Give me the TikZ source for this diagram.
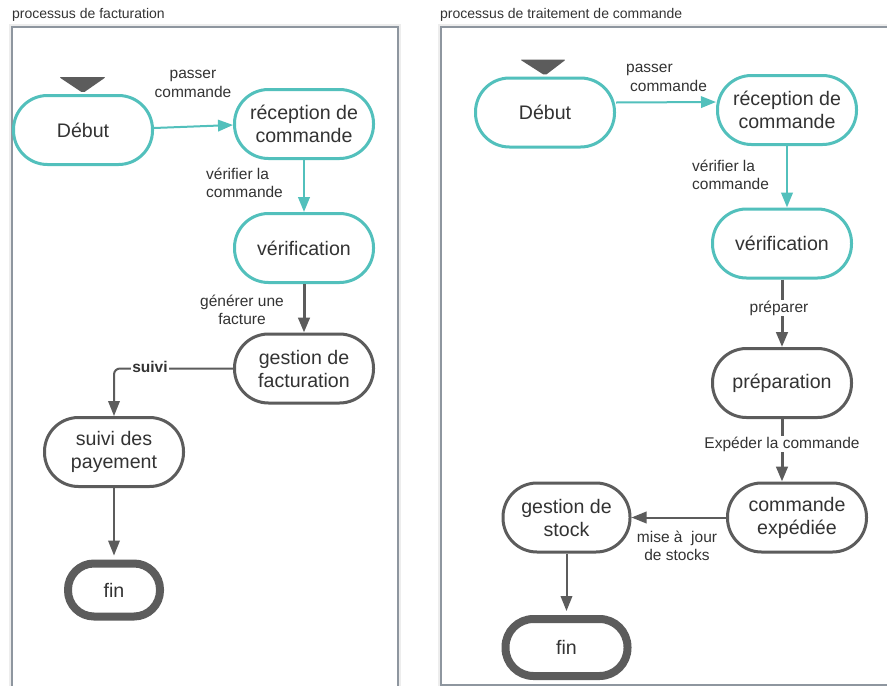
\documentclass[tikz,border=0pt]{standalone}
\usepackage{fontspec}
\setmainfont{Liberation Sans}
\usetikzlibrary{arrows.meta,calc}

\definecolor{teal1}{HTML}{52C0BC}
\definecolor{ink}{HTML}{333333}
\definecolor{edgegray}{HTML}{5C5C5C}
\definecolor{frame}{HTML}{8E969F}

\tikzset{
  state/.style={rectangle, rounded corners=34pt, minimum width=139pt,
    minimum height=69pt, line width=3pt, align=center, inner sep=0pt,
    font=\fontsize{19.6}{23}\selectfont, text=ink, fill=white},
  startstate/.style={state, draw=teal1},
  graystate/.style={state, draw=edgegray},
  endstate/.style={state, draw=edgegray, line width=8pt},
  lbl/.style={font=\fontsize{15.5}{18.7}\selectfont, text=ink, inner sep=1pt},
  title/.style={anchor=west, inner sep=0pt, font=\fontsize{14}{16}\selectfont, text=ink},
  flow/.style={-{Triangle[length=15pt,width=11.5pt]}, line width=2pt, edgegray},
  tealflow/.style={flow, teal1},
  startmark/.style={fill=edgegray, rounded corners=2pt},
  panelshadow/.style={draw=black!7, line width=6pt},
  panel/.style={draw=frame, fill=white, line width=1.4pt},
}

\begin{document}
\begin{tikzpicture}[x=1pt,y=-1pt]
\useasboundingbox (0,0) rectangle (887,686);

% panels
\begin{scope}
  \clip (0,0) rectangle (887,686);
  \draw[panelshadow] (12,27) rectangle (398,700);
  \draw[panelshadow] (441,27) rectangle (900,685);
  \draw[panel] (12,27) rectangle (398,700);
  \draw[panel] (441,27) rectangle (900,685);
\end{scope}
\node[title] (t1) at (12,15) {processus de facturation};
\node[title] (t2) at (440,15) {processus de traitement de commande};

% ---------- billing process ----------
\node[startstate] (L-debut) at (83,130) {Début};
\node[startstate] (L-rec) at (304,124) {réception de\\commande};
\node[startstate] (L-ver) at (304,248) {vérification};
\node[graystate] (L-gest) at (304,368.5) {gestion de\\facturation};
\node[graystate] (L-suivi) at (114,452) {suivi des\\payement};
\node[endstate, minimum width=92pt, minimum height=53pt, rounded corners=26pt] (L-fin) at (114,590) {fin};

\fill[startmark] ([xshift=-24pt,yshift=17pt]L-debut.north) -- ([xshift=23pt,yshift=17pt]L-debut.north) -- ([yshift=1pt]L-debut.north) -- cycle;

\draw[tealflow] ([yshift=2pt]L-debut.east) -- ([yshift=-1pt]L-rec.west);
\draw[tealflow, line width=2.5pt] (L-rec) -- (L-ver);
\draw[flow, line width=3pt] (L-ver) -- (L-gest);
\draw[flow, rounded corners=6pt] (L-gest.west) -| (L-suivi.north);
\draw[flow, shorten >=4pt] (L-suivi) -- (L-fin);

\node[lbl, align=center] (L-l1) at (193,84) {passer\\commande};
\node[lbl, align=left, anchor=west] (L-l2) at (205,183) {vérifier la\\commande};
\node[lbl, align=center] (L-l3) at (242,310) {générer une\\facture};
\node[lbl, fill=white, font=\fontsize{15.5}{18}\selectfont\bfseries] (L-l4) at (150,367) {suivi};

% ---------- order processing ----------
\node[startstate] (R-debut) at (545,112.5) {Début};
\node[startstate] (R-rec) at (787,110) {réception de\\commande};
\node[startstate] (R-ver) at (782,243.5) {vérification};
\node[graystate] (R-prep) at (782,383) {préparation};
\node[graystate] (R-cmd) at (797,517.5) {commande\\expédiée};
\node[graystate, minimum width=127pt] (R-stock) at (566.5,517.5) {gestion de\\stock};
\node[endstate, minimum width=122pt, minimum height=57pt, rounded corners=28pt] (R-fin) at (566.5,647.5) {fin};

\fill[startmark] ([xshift=-25pt,yshift=17pt]R-debut.north) -- ([xshift=21pt,yshift=17pt]R-debut.north) -- ([yshift=1pt]R-debut.north) -- cycle;

\draw[tealflow] ([yshift=10pt]R-debut.east) -- ([yshift=8pt]R-rec.west);
\draw[tealflow, line width=2.5pt] (R-rec.south) -- (R-rec.south |- R-ver.north);
\draw[flow, line width=3pt] (R-ver) -- (R-prep);
\draw[flow, line width=3pt] (R-prep.south) -- (R-prep.south |- R-cmd.north);
\draw[flow] (R-cmd) -- (R-stock);
\draw[flow, shorten >=4pt] (R-stock) -- (R-fin);

\node[lbl, align=left, anchor=west] (R-l1) at (625,78) {passer\\\hspace*{4pt}commande};
\node[lbl, align=left, anchor=west] (R-l2) at (691,175) {vérifier la\\commande};
\node[lbl, fill=white] (R-l3) at (779,308) {préparer};
\node[lbl, fill=white] (R-l4) at (782,444) {Expéder la commande};
\node[lbl, align=center] (R-l5) at (677,546) {mise à\ \ jour\\de stocks};
\end{tikzpicture}
\end{document}
